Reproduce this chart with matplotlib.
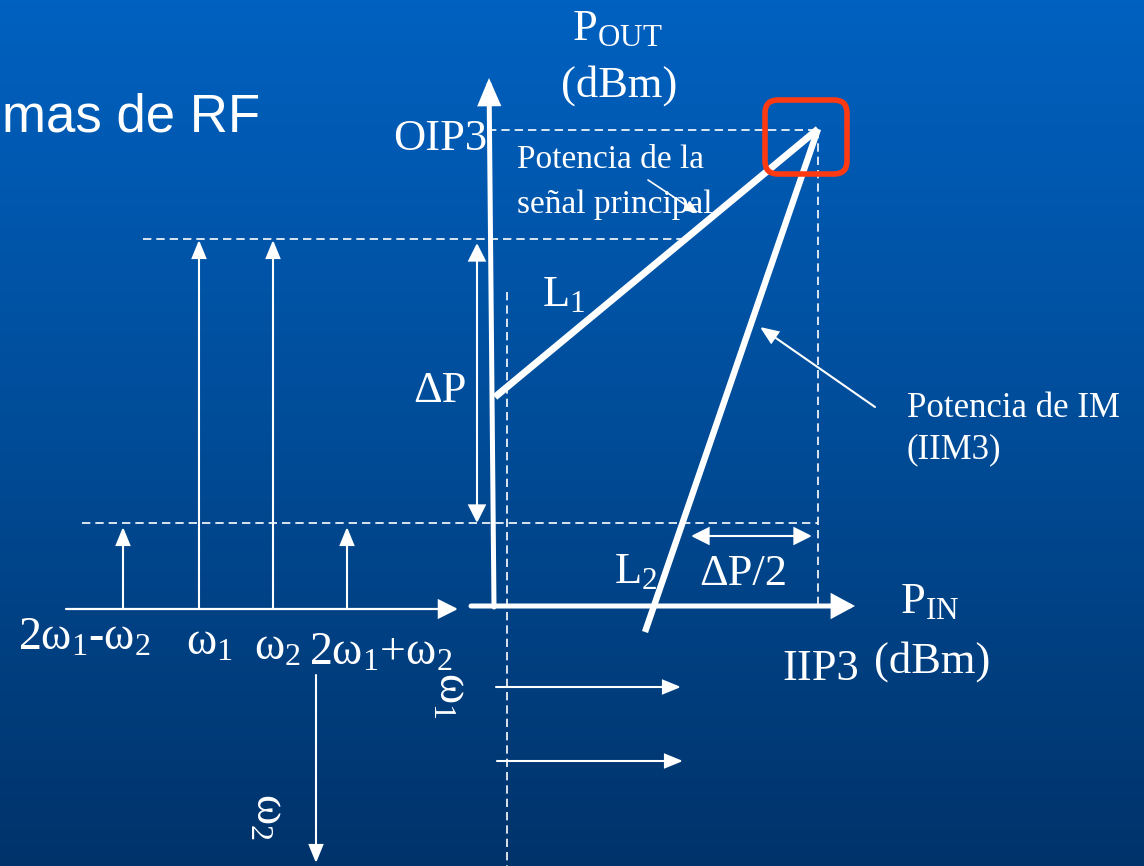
import numpy as np
import matplotlib
matplotlib.use("Agg")
import matplotlib.pyplot as plt
from matplotlib.patches import FancyArrowPatch, FancyBboxPatch
from matplotlib.colors import LinearSegmentedColormap

plt.rcParams['mathtext.fontset'] = 'custom'
plt.rcParams['mathtext.rm'] = 'Liberation Serif'
plt.rcParams['mathtext.it'] = 'Liberation Serif'

SERIF = 'Liberation Serif'
WHITE = 'white'

# spectrum (left part): tone positions and top of each arrow (pixel space)
tone_x = [123, 199, 273, 347]
tone_top = [527, 240, 240, 527]
tone_labels = ['2ω$_1$-ω$_2$', 'ω$_1$', 'ω$_2$', '2ω$_1$+ω$_2$']
tone_label_x = [18, 186, 254, 309]
tone_label_y = [650, 655, 660, 665]
spec_axis_y = 609

# transfer curves: L1 (fundamental) and L2 (IM3), both end at the intercept
intercept = (818, 129)
l1_start = (495, 397)
l2_start = (645, 632)

# levels
oip3_y = 130
fund_y = 239
im_y = 523
iip3_x = 818
pin_dash_x = 507


def arrow(ax, p0, p1, lw=1.5, hl=1.0, hw=0.45, style='-|>', z=5):
    a = FancyArrowPatch(p0, p1, arrowstyle=f'{style},head_length={hl},head_width={hw}',
                        mutation_scale=10, lw=lw, color=WHITE, shrinkA=0, shrinkB=0,
                        zorder=z, joinstyle='miter')
    ax.add_patch(a)


def dashed(ax, xs, ys):
    ax.plot(xs, ys, color=WHITE, lw=1.2, ls=(0, (5, 3)), zorder=3)


fig = plt.figure(figsize=(11.44, 8.66), dpi=100)
ax = fig.add_axes([0, 0, 1, 1])
ax.set_xlim(0, 1144)
ax.set_ylim(866, 0)
ax.axis('off')

# background gradient
cmap = LinearSegmentedColormap.from_list('bg', ['#0061C0', '#004C98', '#00336A'])
grad = np.linspace(0, 1, 256).reshape(-1, 1)
ax.imshow(grad, cmap=cmap, extent=[0, 1144, 866, 0], aspect='auto', zorder=0)

# title fragment
ax.text(2, 132, 'mas de RF', color=WHITE, fontsize=38, family='Liberation Sans',
        ha='left', va='baseline')

# dashed guide lines
dashed(ax, [488, intercept[0]], [oip3_y, oip3_y])
dashed(ax, [143, 685], [fund_y, fund_y])
dashed(ax, [82, iip3_x], [im_y, im_y])
dashed(ax, [iip3_x, iip3_x], [oip3_y, 606])
dashed(ax, [pin_dash_x, pin_dash_x], [292, 866])

# spectrum axis and tones
arrow(ax, (66, spec_axis_y), (458, spec_axis_y), lw=1.6, hl=1.2, hw=0.6)
for x, top in zip(tone_x, tone_top):
    arrow(ax, (x, spec_axis_y), (x, top), lw=1.5, hl=1.1, hw=0.45)
for lab, x, y in zip(tone_labels, tone_label_x, tone_label_y):
    ax.text(x, y, lab, color=WHITE, fontsize=33, family=SERIF, ha='left', va='baseline')

# rotated omega axes
arrow(ax, (316, 675), (316, 863), lw=1.5, hl=1.1, hw=0.45)
ax.text(268, 793, 'ω$_2$', color=WHITE, fontsize=33, family=SERIF, rotation=-90,
        ha='center', va='top')
ax.text(451, 672, 'ω$_1$', color=WHITE, fontsize=33, family=SERIF, rotation=-90,
        ha='center', va='top')
arrow(ax, (496, 687), (681, 687), lw=1.5, hl=1.1, hw=0.45)
arrow(ax, (497, 761), (683, 761), lw=1.5, hl=1.1, hw=0.45)

# main axes
arrow(ax, (494, 607), (489, 78), lw=3.6, hl=1.4, hw=0.6, z=6)
arrow(ax, (471, 606), (855, 606), lw=3.6, hl=1.2, hw=0.65, z=6)

# transfer curves
ax.plot([l1_start[0], intercept[0]], [l1_start[1], intercept[1]], color=WHITE, lw=5.0,
        solid_capstyle='butt', zorder=7)
ax.plot([l2_start[0], intercept[0]], [l2_start[1], intercept[1]], color=WHITE, lw=4.6,
        solid_capstyle='butt', zorder=7)

# delta arrows
arrow(ax, (477, 243), (477, 523), lw=1.5, hl=1.1, hw=0.55, style='<|-|>')
arrow(ax, (691, 536), (812, 536), lw=1.5, hl=1.1, hw=0.55, style='<|-|>')

# pointers
arrow(ax, (875, 407), (760, 327), lw=1.5, hl=1.1, hw=0.45)
arrow(ax, (648, 180), (698, 213), lw=1.2, hl=0.8, hw=0.35)

# intercept highlight
box = FancyBboxPatch((765, 100), 82, 74, boxstyle='round,pad=0,rounding_size=13',
                     fill=False, edgecolor='#FF3A12', lw=4.0, zorder=9)
ax.add_patch(box)

# labels
ax.text(572, 40, 'P$_{\\mathrm{OUT}}$', color=WHITE, fontsize=32, family=SERIF,
        ha='left', va='baseline')
ax.text(619, 97, '(dBm)', color=WHITE, fontsize=32, family=SERIF, ha='center', va='baseline')
ax.text(487, 150, 'OIP3', color=WHITE, fontsize=32, family=SERIF, ha='right', va='baseline')
ax.text(517, 168, 'Potencia de la', color=WHITE, fontsize=24, family=SERIF,
        ha='left', va='baseline')
ax.text(517, 213, 'señal principal', color=WHITE, fontsize=24, family=SERIF,
        ha='left', va='baseline', zorder=4)
ax.text(542, 306, 'L$_1$', color=WHITE, fontsize=32, family=SERIF, ha='left', va='baseline')
ax.text(413, 402, 'ΔP', color=WHITE, fontsize=32, family=SERIF, ha='left', va='baseline')
ax.text(907, 417, 'Potencia de IM', color=WHITE, fontsize=25, family=SERIF,
        ha='left', va='baseline')
ax.text(907, 458, '(IIM3)', color=WHITE, fontsize=25, family=SERIF, ha='left', va='baseline')
ax.text(614, 583, 'L$_2$', color=WHITE, fontsize=32, family=SERIF, ha='left', va='baseline')
ax.text(699, 585, 'ΔP/2', color=WHITE, fontsize=32, family=SERIF, ha='left', va='baseline')
ax.text(900, 613, 'P$_{\\mathrm{IN}}$', color=WHITE, fontsize=32, family=SERIF,
        ha='left', va='baseline')
ax.text(782, 680, 'IIP3', color=WHITE, fontsize=32, family=SERIF, ha='left', va='baseline')
ax.text(874, 673, '(dBm)', color=WHITE, fontsize=32, family=SERIF, ha='left', va='baseline')

fig.savefig('out.png', dpi=100)
